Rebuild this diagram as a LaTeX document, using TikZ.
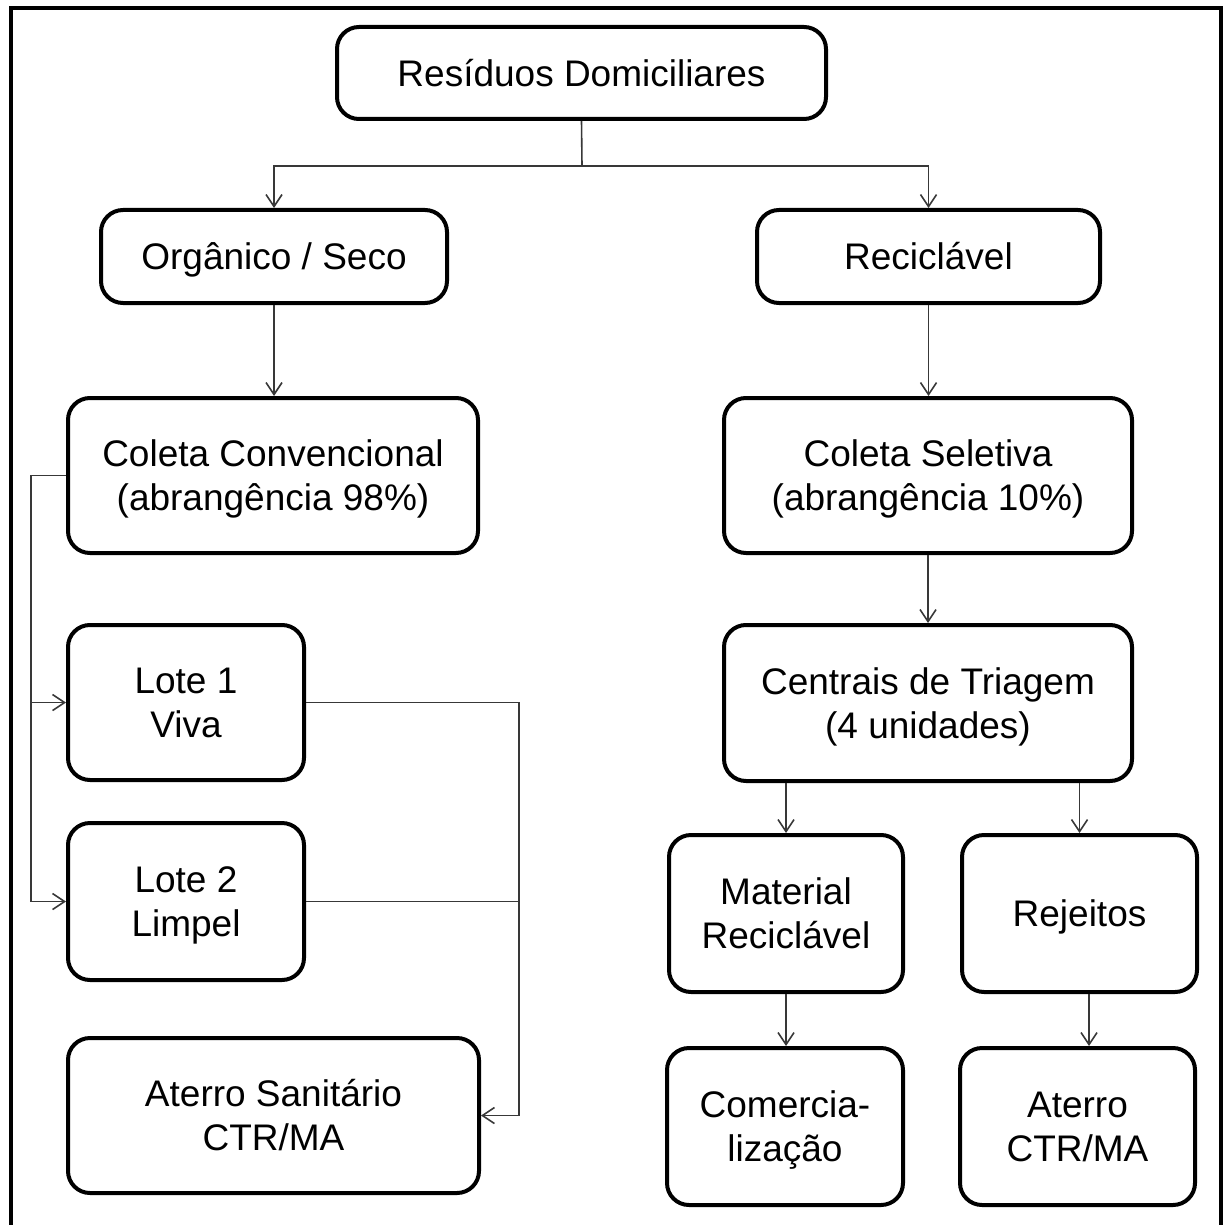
\documentclass[tikz,border=0pt]{standalone}
\usepackage{fontspec}
\setmainfont{Liberation Sans}
\usetikzlibrary{arrows.meta}
\tikzset{
  box/.style={draw=black, line width=2pt, rounded corners=11pt, align=center, inner sep=0pt,
    font=\fontsize{18.5}{22}\selectfont, text height=13.2pt, text depth=0pt},
  box2/.style={box, text height=35.2pt},
  conn/.style={line width=0.8pt, draw=black!78},
  arr/.style={conn, -{Straight Barb[length=6pt, width=8pt, line width=0.8pt]}},
}
\begin{document}
\begin{tikzpicture}[x=0.5pt, y=-0.5pt]
\useasboundingbox (0,0) rectangle (1225,1225);
% frame (bottom edge is cut off in the reference)
\draw[line width=2pt] (10.5,1230) -- (10.5,8) -- (1221,8) -- (1221,1230);

% nodes
\node[box, minimum width=244.5pt, minimum height=46pt] (top) at (581.5,73) {Resíduos Domiciliares};
\node[box, minimum width=173pt, minimum height=46.5pt] (org) at (274,256.5) {Orgânico / Seco};
\node[box, minimum width=171.5pt, minimum height=46.5pt] (rec) at (928.5,256.5) {Reciclável};
\node[box2, minimum width=205pt, minimum height=77.5pt] (cc) at (273,475.5) {Coleta Convencional\\(abrangência 98\%)};
\node[box2, minimum width=204pt, minimum height=77.5pt] (cs) at (928,475.5) {Coleta Seletiva\\(abrangência 10\%)};
\node[box2, minimum width=118pt, minimum height=77.5pt] (l1) at (186,702.5) {Lote 1\\Viva};
\node[box2, minimum width=204pt, minimum height=78pt] (ct) at (928,703) {Centrais de Triagem\\(4 unidades)};
\node[box2, minimum width=118pt, minimum height=78.5pt] (l2) at (186,901.5) {Lote 2\\Limpel};
\node[box2, minimum width=205.5pt, minimum height=77.5pt] (asan) at (273.5,1115.5) {Aterro Sanitário\\CTR/MA};
\node[box2, minimum width=117pt, minimum height=78.5pt] (mr) at (786,913.5) {Material\\Reciclável};
\node[box, minimum width=117.5pt, minimum height=78.5pt] (rj) at (1079.5,913.5) {Rejeitos};
\node[box2, minimum width=118pt, minimum height=78.5pt] (com) at (785,1126.5) {Comercia-\\lização};
\node[box2, minimum width=117.5pt, minimum height=78.5pt] (aterro2) at (1077.5,1126.5) {Aterro\\CTR/MA};

% connectors
\coordinate (split) at (582,166);
\draw[conn] (top.south) -- (split);
\draw[arr] (split) -| (org.north);
\draw[arr] (split) -| (rec.north);
\draw[arr] (org.south) -- (org.south |- cc.north);

\coordinate (lx) at (31,0);
\draw[arr] (cc.west) -- (cc.west -| lx) |- (l2.west);
\draw[arr] (lx |- l1.west) -- (l1.west);

\coordinate (rx) at (519,0);
\draw[arr] (l1.east) -- (l1.east -| rx) |- (asan.east);
\draw[conn] (l2.east) -- (l2.east -| rx);

\draw[arr] (rec.south) -- (rec.south |- cs.north);
\draw[arr] (cs.south) -- (cs.south |- ct.north);
\draw[arr] (mr.north |- ct.south) -- (mr.north);
\draw[arr] (rj.north |- ct.south) -- (rj.north);
\draw[arr] (mr.south) -- (mr.south |- com.north);
\draw[arr] ([xshift=4.75pt]rj.south) -- ([xshift=4.75pt]rj.south |- aterro2.north);
\end{tikzpicture}
\end{document}
